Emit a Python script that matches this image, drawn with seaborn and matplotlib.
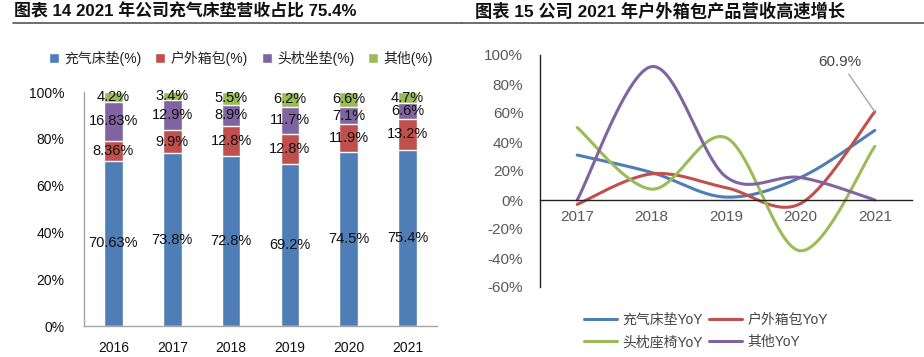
import numpy as np
import pandas as pd
import seaborn as sns
import matplotlib.pyplot as plt

# ---- data: left chart (revenue share, %) ----
years_share = ["2016", "2017", "2018", "2019", "2020", "2021"]
share_names = ["充气床垫(%)", "户外箱包(%)", "头枕坐垫(%)", "其他(%)"]
mattress = [70.63, 73.8, 72.8, 69.2, 74.5, 75.4]
bags = [8.36, 9.9, 12.8, 12.8, 11.9, 13.2]
pillows = [16.83, 12.9, 8.9, 11.7, 7.1, 6.6]
others = [4.2, 3.4, 5.5, 6.2, 6.6, 4.7]

# ---- data: right chart (YoY growth, %) ----
years_yoy = ["2017", "2018", "2019", "2020", "2021"]
yoy_names = ["充气床垫YoY", "户外箱包YoY", "头枕座椅YoY", "其他YoY"]
yoy_mattress = [31, 19, 2, 15.5, 48]
yoy_bags = [-3, 18, 8.5, -2.5, 60.9]
yoy_pillows = [50, 7.5, 43, -35, 37]
yoy_others = [0, 92, 16, 15.5, 0]

blue, red, purple, green = "#4F7DB5", "#C0504D", "#8064A2", "#9BBB59"
bar_colors = [blue, red, purple, green]
line_colors = [blue, red, green, purple]

sns.set_theme(style="white")
plt.rcParams["font.family"] = ["Liberation Sans", "Noto Sans CJK SC", "DejaVu Sans"]


def smooth(y, n=40):
    # Excel-like smoothed line (Bezier through the points)
    pts = np.column_stack([np.arange(len(y)), np.asarray(y, float)])
    out = []
    for i in range(len(pts) - 1):
        p0 = pts[max(i - 1, 0)]
        p1 = pts[i]
        p2 = pts[i + 1]
        p3 = pts[min(i + 2, len(pts) - 1)]
        c1 = p1 + (p2 - p0) / 6
        c2 = p2 - (p3 - p1) / 6
        t = np.linspace(0, 1, n)[:, None]
        seg = (1 - t) ** 3 * p1 + 3 * (1 - t) ** 2 * t * c1 + 3 * (1 - t) * t ** 2 * c2 + t ** 3 * p2
        out.append(seg if i == 0 else seg[1:])
    return np.vstack(out)


W, H = 924, 357
fig = plt.figure(figsize=(W / 100, H / 100), dpi=100)

# titles and rules
fig.text(14 / W, 1 - 11 / H, "图表 14 2021 年公司充气床垫营收占比 75.4%", fontsize=12.2,
         fontweight="bold", va="center", ha="left", color="#111111")
fig.text(475 / W, 1 - 11 / H, "图表 15 公司 2021 年户外箱包产品营收高速增长", fontsize=12.4,
         fontweight="bold", va="center", ha="left", color="#111111")
fig.add_artist(plt.Line2D([13 / W, 462 / W], [1 - 22.5 / H, 1 - 22.5 / H], color="#555555", lw=1.2))
fig.add_artist(plt.Line2D([462 / W, 924 / W], [1 - 22.5 / H, 1 - 22.5 / H], color="#555555", lw=1.2))

# ---- left: stacked bars ----
ax1 = fig.add_axes([84 / W, 1 - 326 / H, (437 - 84) / W, (326 - 92) / H])
df = pd.DataFrame({"year": years_share, share_names[0]: mattress, share_names[1]: bags,
                   share_names[2]: pillows, share_names[3]: others})
layers = [mattress, bags, pillows, others]
cum = np.cumsum(np.array(layers), axis=0)
for k in range(3, -1, -1):
    sns.barplot(x=df["year"], y=cum[k], color=bar_colors[k], width=0.32, ax=ax1,
                saturation=1, label=share_names[k])
for k in range(4):
    bottom = cum[k] - np.array(layers[k])
    for i, v in enumerate(layers[k]):
        ax1.text(i, bottom[i] + v / 2, f"{v:g}%", ha="center", va="center",
                 fontsize=10.5, color="#111111")
ax1.set_ylim(0, 100)
ax1.set_xlim(-0.5, 5.5)
ax1.set_yticks(np.arange(0, 101, 20))
ax1.set_yticklabels([f"{v}%" for v in range(0, 101, 20)])
ax1.set_xlabel("")
ax1.set_ylabel("")
ax1.tick_params(axis="y", length=0, labelsize=10, pad=14, labelcolor="#111111")
ax1.tick_params(axis="x", length=0, labelsize=10, pad=11, labelcolor="#111111")
for s in ["top", "right"]:
    ax1.spines[s].set_visible(False)
for s in ["left", "bottom"]:
    ax1.spines[s].set_color("#A6A6A6")
    ax1.spines[s].set_linewidth(1)
handles, labels = ax1.get_legend_handles_labels()
order = [labels.index(n) for n in share_names]
leg1 = fig.legend([handles[i] for i in order], share_names, loc="center",
                  bbox_to_anchor=(241 / W, 1 - 58 / H), ncol=4, frameon=False,
                  fontsize=10, handlelength=0.7, handleheight=0.7, handletextpad=0.4,
                  columnspacing=1.0)
for t in leg1.get_texts():
    t.set_color("#222222")
if ax1.get_legend() is not None:
    ax1.get_legend().remove()

# ---- right: smoothed YoY lines ----
ax2 = fig.add_axes([540 / W, 1 - 287 / H, (912 - 540) / W, (287 - 55) / H])
series = [yoy_mattress, yoy_bags, yoy_pillows, yoy_others]
for k, vals in enumerate(series):
    sm = smooth(vals)
    sns.lineplot(x=sm[:, 0], y=sm[:, 1], color=line_colors[k], lw=2.2, ax=ax2,
                 label=yoy_names[k], sort=False, estimator=None)
ax2.set_xlim(-0.5, 4.5)
ax2.set_ylim(-60, 100)
ax2.set_yticks(np.arange(-60, 101, 20))
ax2.set_yticklabels([f"{v}%" for v in range(-60, 101, 20)])
ax2.set_xticks(range(len(years_yoy)))
ax2.set_xticklabels(years_yoy)
ax2.spines["left"].set_position(("data", -0.5))
ax2.spines["bottom"].set_position(("data", 0))
for s in ["top", "right"]:
    ax2.spines[s].set_visible(False)
for s in ["left", "bottom"]:
    ax2.spines[s].set_color("#222222")
    ax2.spines[s].set_linewidth(1)
ax2.tick_params(axis="y", length=0, labelsize=11, pad=12, labelcolor="#595959")
ax2.tick_params(axis="x", length=0, labelsize=11, pad=7, labelcolor="#595959")
ax2.annotate("60.9%", xy=(4, yoy_bags[4]), xytext=(-25, 31), textcoords="offset points",
             ha="center", va="bottom", fontsize=11, color="#444444",
             arrowprops=dict(arrowstyle="-", color="#A6A6A6", lw=1, shrinkA=2, shrinkB=0))
ax2.get_legend().remove()
h2, l2 = ax2.get_legend_handles_labels()
idx = [0, 2, 1, 3]
leg2 = fig.legend([h2[i] for i in idx], [l2[i] for i in idx], loc="center",
                  bbox_to_anchor=(706 / W, 1 - 331 / H), ncol=2,
                  frameon=False, fontsize=10, handlelength=2.4, handletextpad=0.4,
                  columnspacing=0.4, labelspacing=0.6)
for t in leg2.get_texts():
    t.set_color("#444444")

fig.savefig("out.png", dpi=100)
